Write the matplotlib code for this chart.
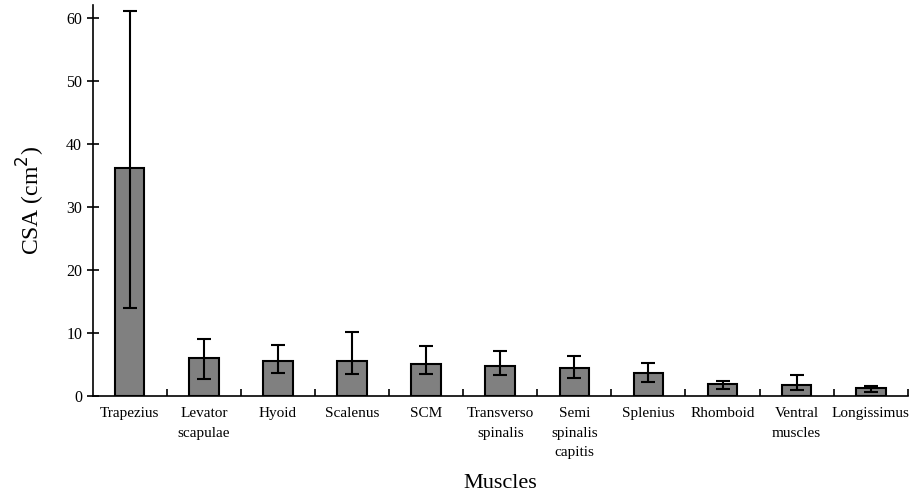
import matplotlib
matplotlib.use("Agg")
import matplotlib.pyplot as plt
import numpy as np

plt.rcParams['font.family'] = ['Liberation Serif', 'DejaVu Serif']

muscles = ['Trapezius', 'Levator\nscapulae', 'Hyoid', 'Scalenus', 'SCM',
           'Transverso\nspinalis', 'Semi\nspinalis\ncapitis', 'Splenius',
           'Rhomboid', 'Ventral\nmuscles', 'Longissimus']
csa_mean = [36.1, 6.0, 5.6, 5.6, 5.0, 4.8, 4.4, 3.7, 1.9, 1.7, 1.3]
err_low = [14.0, 2.7, 3.7, 3.5, 3.5, 3.3, 2.9, 2.2, 1.1, 1.0, 0.7]
err_high = [61.0, 9.0, 8.1, 10.2, 7.9, 7.1, 6.4, 5.2, 2.4, 3.3, 1.6]

csa_mean = np.array(csa_mean)
yerr = [csa_mean - np.array(err_low), np.array(err_high) - csa_mean]

fig, ax = plt.subplots(figsize=(9.17, 5.0), dpi=100)
fig.subplots_adjust(left=0.101, right=0.99, top=0.99, bottom=0.208)

x = np.arange(len(muscles))
ax.bar(x, csa_mean, width=0.4, color='#808080', edgecolor='black', linewidth=1.5,
       yerr=yerr, capsize=5, error_kw=dict(elinewidth=1.5, capthick=1.5, ecolor='black'))

ax.set_xlim(-0.5, len(muscles) - 0.5)
ax.set_ylim(0, 62)
ax.set_yticks(np.arange(0, 61, 10))
ax.tick_params(axis='y', direction='inout', length=8, width=1.2, labelsize=11.5)

# category labels centred, tick marks between categories
ax.set_xticks(x)
ax.set_xticklabels(muscles, fontsize=11, linespacing=1.65, va='top')
ax.tick_params(axis='x', length=0, pad=8)
ax.set_xticks(np.arange(0.5, len(muscles), 1), minor=True)
ax.tick_params(axis='x', which='minor', direction='in', length=5, width=1.2)

for side in ['top', 'right']:
    ax.spines[side].set_visible(False)
for side in ['left', 'bottom']:
    ax.spines[side].set_linewidth(1.2)

ax.set_ylabel('CSA (cm$^2$)', fontsize=17, labelpad=14)
ax.set_xlabel('Muscles', fontsize=16)
ax.xaxis.set_label_coords(0.5, -0.2)

fig.savefig('out.png', dpi=100)
